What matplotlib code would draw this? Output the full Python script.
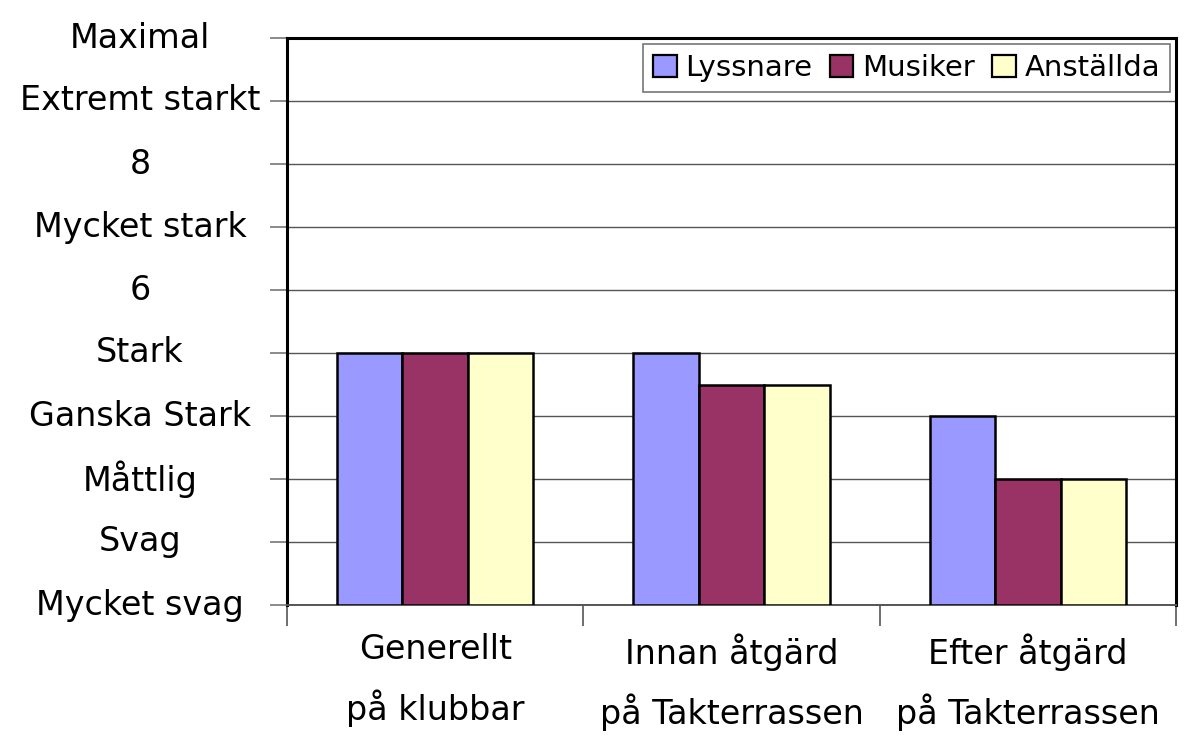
#!/usr/bin/env python3

# +
# import(s)
# -
import numpy as np
import matplotlib
matplotlib.use('Agg')
import matplotlib.pyplot as plt
from matplotlib.patches import Patch
from matplotlib.transforms import blended_transform_factory


# +
# data
# -
categories = ['Generellt\npå klubbar', 'Innan åtgärd\npå Takterrassen', 'Efter åtgärd\npå Takterrassen']
series = ['Lyssnare', 'Musiker', 'Anställda']
lyssnare = [4, 4, 3]
musiker = [4, 3.5, 2]
anstallda = [4, 3.5, 2]
y_labels = ['Mycket svag', 'Svag', 'Måttlig', 'Ganska Stark', 'Stark', '6',
            'Mycket stark', '8', 'Extremt starkt', 'Maximal']

colors = ['#9999ff', '#993366', '#ffffcc']
FONT = 24

# +
# plot
# -
fig = plt.figure(figsize=(11.89, 7.44), dpi=100)
ax = fig.add_axes([287 / 1189, 1 - 605 / 744, (1176 - 287) / 1189, (605 - 38) / 744])

x = np.arange(len(categories))
w = 0.221
for _i, (_vals, _c) in enumerate(zip([lyssnare, musiker, anstallda], colors)):
    ax.bar(x + (_i - 1) * w, _vals, width=w, color=_c, edgecolor='black', linewidth=1.8, zorder=3)

ax.set_xlim(-0.5, len(categories) - 0.5)
ax.set_ylim(0, 9)

# grid
ax.set_yticks(np.arange(0, 10))
ax.yaxis.grid(True, color='#555555', linewidth=1.0, zorder=0)

# spines
for _s in ['top', 'left', 'right']:
    ax.spines[_s].set_linewidth(2.2)
    ax.spines[_s].set_color('black')
ax.spines['bottom'].set_color('#555555')
ax.spines['bottom'].set_linewidth(1.4)

# y tick labels, centered in the left margin
ax.set_yticklabels([])
ax.tick_params(axis='y', direction='out', length=12, width=1.2, color='#777777')
_tr = blended_transform_factory(fig.transFigure, ax.transData)
for _k, _lab in enumerate(y_labels):
    ax.text(140 / 1189, _k, _lab, transform=_tr, ha='center', va='center', fontsize=FONT)

# x ticks at category boundaries, labels at centres
ax.set_xticks(np.arange(-0.5, len(categories)))
ax.set_xticklabels([])
ax.tick_params(axis='x', direction='out', length=15, width=1.2, color='#555555')
for _k, _lab in enumerate(categories):
    ax.text(_k, -0.45, _lab, ha='center', va='top', fontsize=FONT, linespacing=1.75)

# legend
handles = [Patch(facecolor=_c, edgecolor='black', linewidth=1.6) for _c in colors]
leg = ax.legend(handles, series, loc='upper right', ncol=3, fontsize=FONT - 3,
                frameon=True, fancybox=False, edgecolor='#555555',
                handlelength=0.8, handleheight=0.8, handletextpad=0.3,
                columnspacing=0.6, borderaxespad=0.2, borderpad=0.35)
leg.get_frame().set_linewidth(1.2)

fig.savefig('out.png', dpi=100)
